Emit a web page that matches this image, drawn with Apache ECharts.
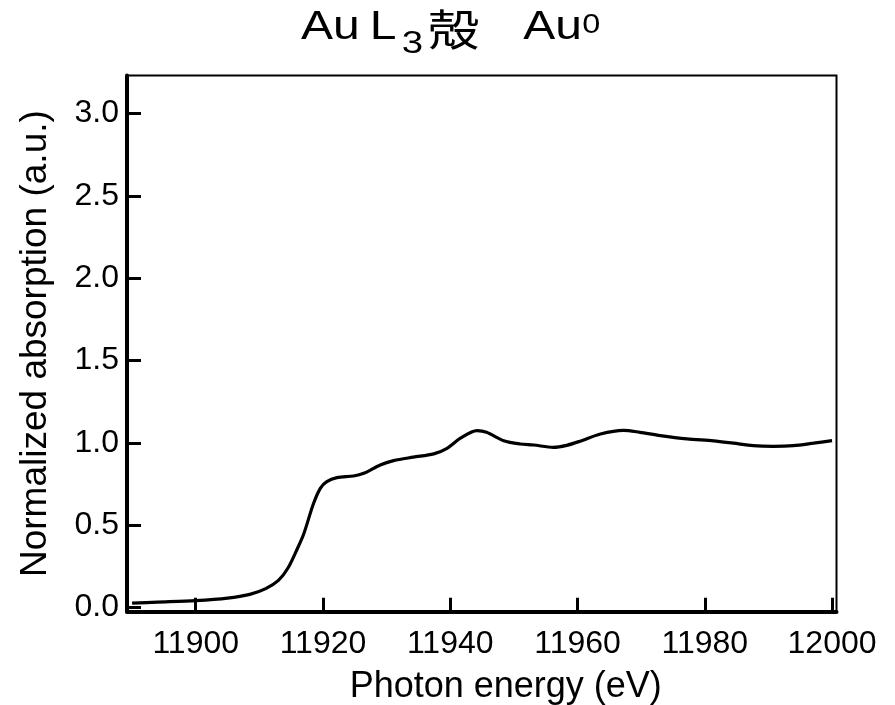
<!DOCTYPE html>
<html>
<head>
<meta charset="utf-8">
<script src="https://cdn.jsdelivr.net/npm/echarts@6/dist/echarts.min.js"></script>
<style>
  html, body { margin: 0; padding: 0; background: #fff; }
  #chart { width: 895px; height: 705px; }
</style>
</head>
<body>
<div id="chart"></div>
<script>
// Au L3-edge XANES spectrum of metallic gold
const energy = [
  11890, 11894, 11900, 11905, 11908.5, 11911, 11913, 11914.5, 11916, 11917,
  11918.5, 11919.6, 11920.6, 11922.2, 11924.8, 11926.4, 11929, 11931.1, 11934.2, 11937.4,
  11939.5, 11941.6, 11944.2, 11945.7, 11948.4, 11951, 11953.1, 11956.2, 11958.3, 11960.4,
  11963.6, 11967.2, 11969.8, 11973, 11977.2, 11981.4, 11984.5, 11987.6, 11990.8, 11993.9,
  11997.1, 12000
];
const absorption = [
  0.027, 0.033, 0.042, 0.057, 0.080, 0.115, 0.165, 0.24, 0.36, 0.45,
  0.63, 0.725, 0.765, 0.789, 0.799, 0.815, 0.866, 0.892, 0.913, 0.933,
  0.967, 1.028, 1.074, 1.064, 1.013, 0.993, 0.987, 0.973, 0.985, 1.01,
  1.054, 1.076, 1.064, 1.044, 1.024, 1.012, 0.998, 0.983, 0.979, 0.983,
  0.998, 1.013
];
const xTicks = [11900, 11920, 11940, 11960, 11980, 12000];
const yTicks = [0, 0.5, 1.0, 1.5, 2.0, 2.5, 3.0];

const FONT = "'Liberation Sans', Arial, 'Noto Sans CJK JP', sans-serif";
const CJK = "'Noto Sans CJK JP', 'Noto Sans CJK SC', sans-serif";

const chart = echarts.init(document.getElementById('chart'), null, { renderer: 'canvas' });

// Title pieces, all hung from the top of the line: element, edge, subscript,
// kanji, species, superscript. padTop drops a piece below the line top.
const piece = (fam, size, lh, padTop, w) => ({
  fontFamily: fam, fontSize: size, fontWeight: 'normal', fill: '#000', color: '#000',
  lineHeight: lh, verticalAlign: 'top', padding: [padTop, 0, 0, 0], width: w, align: 'left'
});

chart.setOption({
  animation: false,
  backgroundColor: '#ffffff',
  graphic: [{
    type: 'text',
    x: 301,
    y: 8,
    scaleX: 1.2,
    silent: true,
    style: {
      text: '{a|Au}{l|L}{sub|3}{k|殻}{b|Au}{sup|0}',
      verticalAlign: 'top',
      align: 'left',
      fill: '#000',
      rich: {
        a: piece(FONT, 40, 48, 0, 57.25),
        l: piece(FONT, 40, 48, 0, 26.7),
        sub: piece(FONT, 32, 32, 20.5, 21.75),
        k: piece(CJK, 43, 48, 0, 79.55),
        b: piece(FONT, 40, 48, 0, 49.2),
        sup: piece(FONT, 27, 27, 4.1, 22)
      }
    }
  }],
  grid: {
    left: 127,
    right: 58.5,
    top: 75.5,
    bottom: 93.3,
    outerBoundsMode: 'none',
    containLabel: false,
    show: true,
    borderColor: '#000',
    borderWidth: 2,
    backgroundColor: 'transparent'
  },
  xAxis: {
    type: 'value',
    min: 11889.2,
    max: 12000.7,
    name: 'Photon energy (eV)',
    nameLocation: 'middle',
    nameGap: 57,
    nameTextStyle: { fontFamily: FONT, fontSize: 36, color: '#000', padding: [0, 0, 0, 48] },
    axisLine: { show: true, onZero: false, lineStyle: { color: '#000', width: 4 } },
    axisTick: { show: true, inside: true, length: 14, customValues: xTicks, lineStyle: { color: '#000', width: 3 } },
    axisLabel: {
      customValues: xTicks, margin: 16, fontFamily: FONT, fontSize: 32, color: '#000',
      formatter: v => String(v)
    },
    splitLine: { show: false }
  },
  yAxis: {
    type: 'value',
    min: -0.025,
    max: 3.23,
    name: 'Normalized absorption (a.u.)',
    nameLocation: 'middle',
    nameRotate: 90,
    nameGap: 73,
    nameTextStyle: { fontFamily: FONT, fontSize: 37, color: '#000' },
    axisLine: { show: true, onZero: false, lineStyle: { color: '#000', width: 4 } },
    axisTick: { show: true, inside: true, length: 14, customValues: yTicks, lineStyle: { color: '#000', width: 3 } },
    axisLabel: {
      customValues: yTicks, margin: 8, fontFamily: FONT, fontSize: 32, color: '#000',
      formatter: v => v.toFixed(1)
    },
    splitLine: { show: false }
  },
  series: [{
    type: 'line',
    data: energy.map((e, i) => [e, absorption[i]]),
    smooth: 0.3,
    showSymbol: false,
    lineStyle: { color: '#000', width: 3.2 }
  }]
});
</script>
</body>
</html>
